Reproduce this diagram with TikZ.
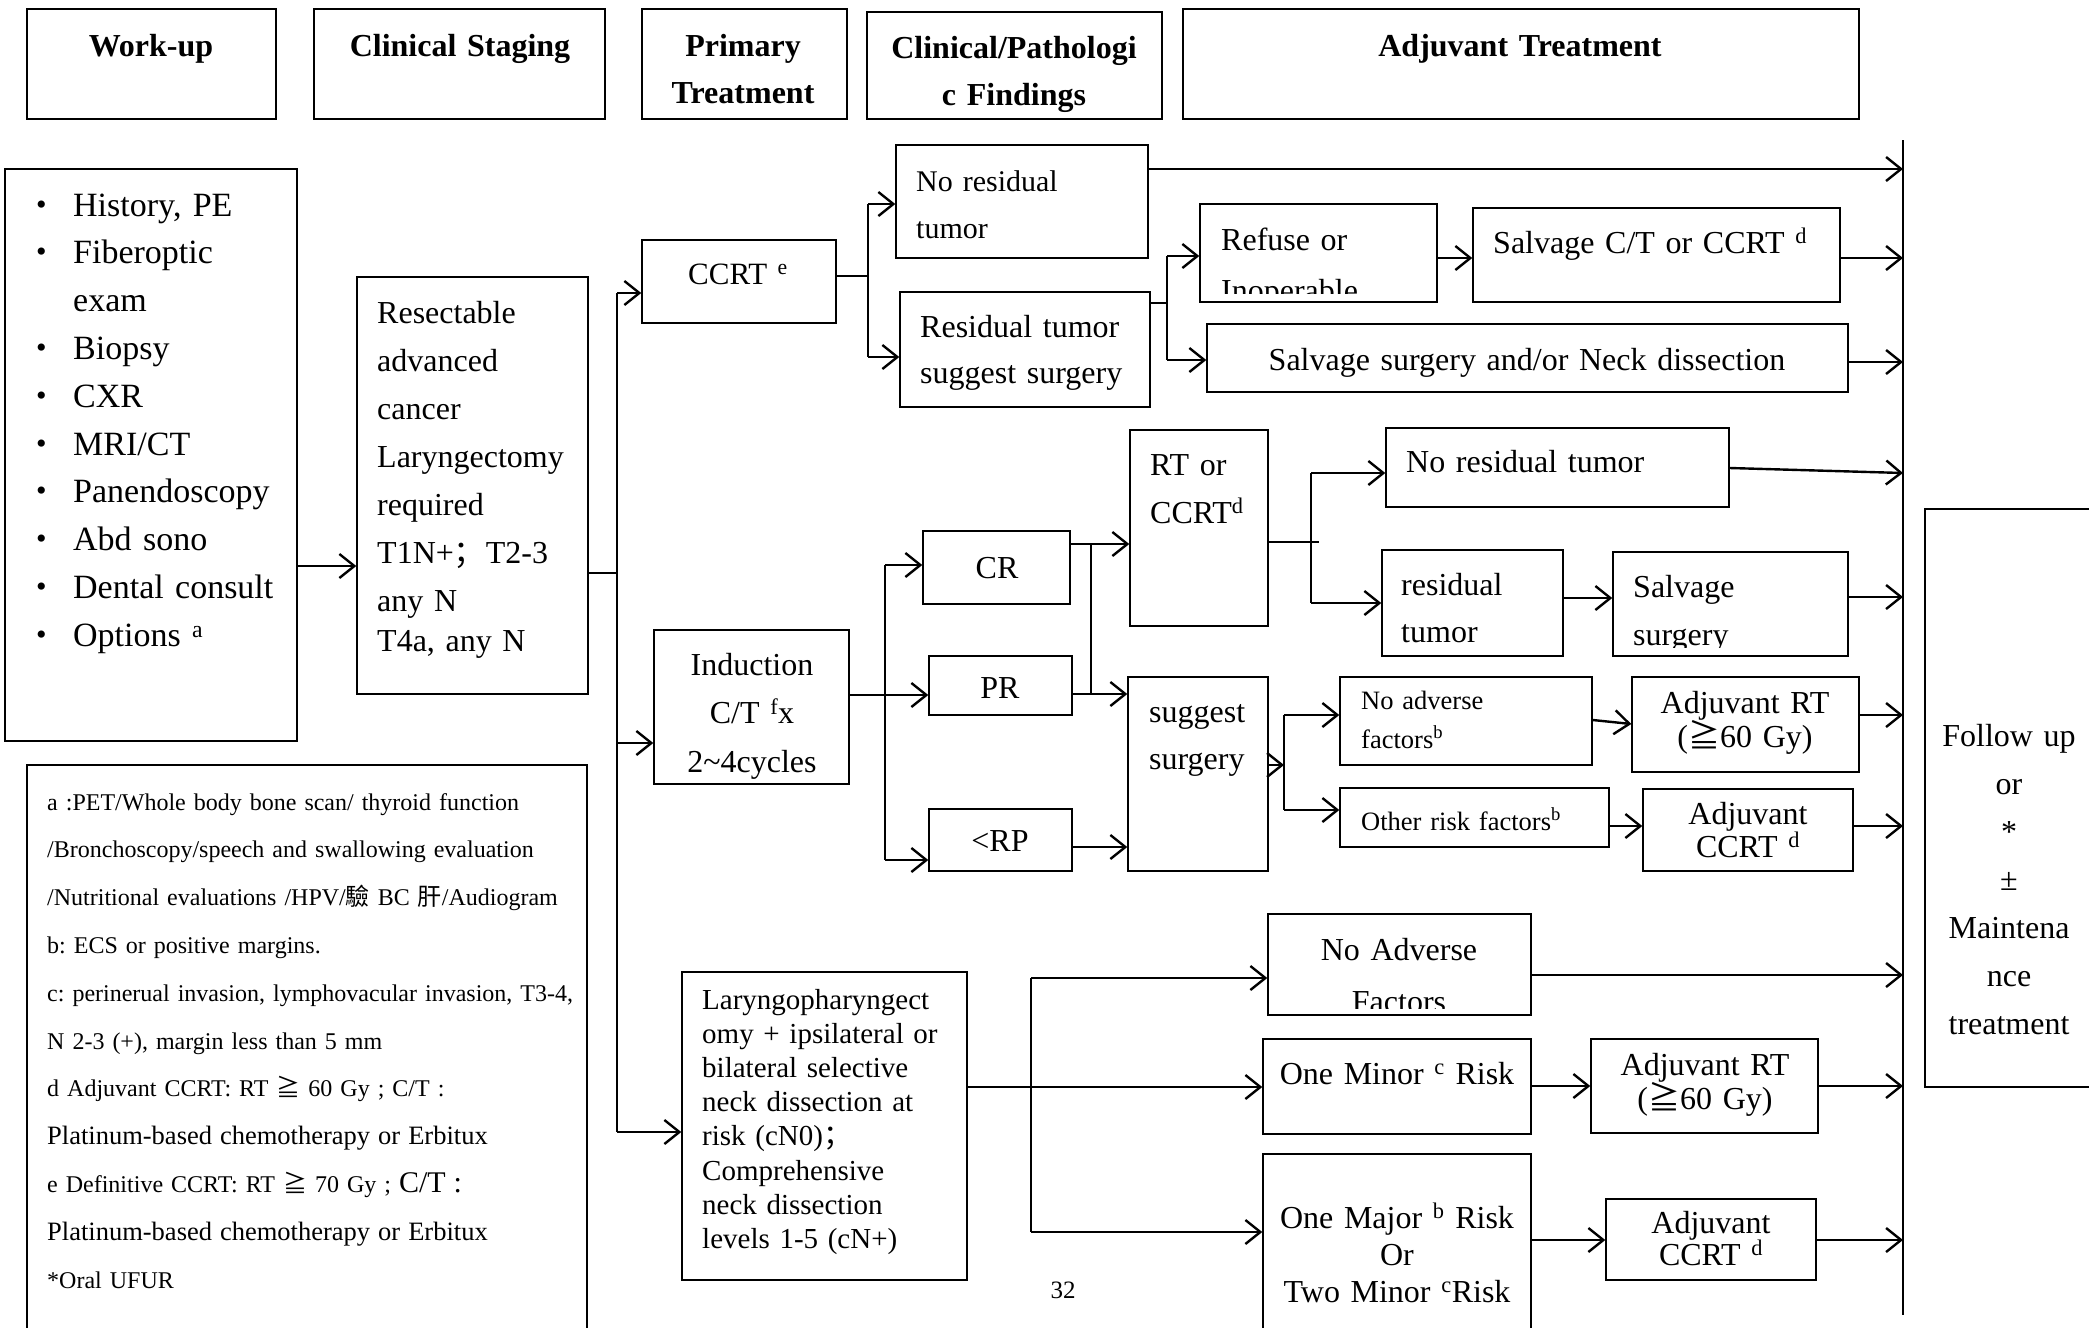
\documentclass[tikz,border=0pt]{standalone}
\usepackage{fontspec}
\setmainfont{Liberation Serif}
\newfontfamily\cjk{Noto Sans CJK SC}
\usetikzlibrary{arrows.meta,fit}

\newcommand\fsz[2]{\fontsize{#1}{#2}\selectfont}
\newcommand\sups[1]{\textsuperscript{#1}}
\newcommand\gee{{\cjk ≧}}
\newcommand\fwsemi{{\cjk ；}}
% a box spanning two corners, named #1
\newcommand\bx[5]{\node[box, fit={(#2,#3) (#4,#5)}] (#1) {};}

\tikzset{
  box/.style={draw, line width=1.4pt, inner sep=0pt},
  conn/.style={line width=1.8pt},
  arr/.style={line width=2.4pt, -{Straight Barb[length=15pt,width=24pt]}},
  lt/.style={inner sep=0pt, anchor=base west, text width=#1, align=left},
  lt/.default=600pt,
  ct/.style={inner sep=0pt, anchor=base, text width=#1, align=center},
  ct/.default=400pt,
  hd/.style={ct, font=\bfseries\fsz{32}{47}},
}

\begin{document}
\frenchspacing
\begin{tikzpicture}[x=1pt,y=-1pt]
\useasboundingbox (0,0) rectangle (2089,1328);
\clip (0,0) rectangle (2089,1328);

% ---------- column headers ----------
\bx{hWork}{27}{9}{276}{119}
\bx{hStage}{314}{9}{605}{119}
\bx{hPrim}{642}{9}{847}{119}
\bx{hFind}{867}{12}{1162}{119}
\bx{hAdj}{1183}{9}{1859}{119}
\node[hd] (tWork) at (151,56) {Work-up};
\node[hd] (tStageH) at (460,56) {Clinical Staging};
\node[hd] (tPrim) at (743,56) {Primary\\Treatment};
\node[hd] (tFind) at (1014,58) {Clinical/Pathologi\\c Findings};
\node[hd] (tAdj) at (1520,56) {Adjuvant Treatment};

% ---------- work-up and staging ----------
\bx{work}{5}{169}{297}{741}
\node[lt=40pt, font=\fsz{30}{47.8}] (tBul) at (36,214)
  {•\\•\\\mbox{}\\•\\•\\•\\•\\•\\•\\•};
\node[lt, font=\fsz{34}{47.8}] (tWorkList) at (73,216)
  {History, PE\\Fiberoptic\\exam\\Biopsy\\CXR\\MRI/CT\\Panendoscopy\\Abd sono\\Dental consult\\Options \sups{a}};

\bx{notes}{27}{765}{587}{1345}
\node[lt=560pt, font=\fsz{24}{47.8}] (tNotes) at (47,810)
  {a :PET/Whole body bone scan/ thyroid function\\
   /Bronchoscopy/speech and swallowing evaluation\\
   /Nutritional evaluations /HPV/{\cjk 驗} BC {\cjk 肝}/Audiogram\\
   b: ECS or positive margins.\\
   c: perinerual invasion, lymphovacular invasion, T3-4,\\
   N 2-3 (+), margin less than 5 mm\\
   d Adjuvant CCRT: RT \gee\ 60 Gy ; C/T :\\
   {\fsz{26.5}{47.8}Platinum-based chemotherapy or Erbitux}\\
   e Definitive CCRT: RT \gee\ 70 Gy ; {\fsz{30}{47.8}C/T :}\\
   {\fsz{26.5}{47.8}Platinum-based chemotherapy or Erbitux}\\
   {*}Oral UFUR};

\bx{stage}{357}{277}{588}{694}
\node[lt, font=\fsz{32}{48}] (tStage) at (377,323)
  {Resectable\\advanced\\cancer\\Laryngectomy\\required\\T1N+\fwsemi T2-3\\any N\\[-8pt]T4a, any N};

% ---------- CCRT branch ----------
\bx{ccrt}{642}{240}{836}{323}
\node[ct=200pt, font=\fsz{31}{48}] (tCcrt) at (738,284) {CCRT \sups{e}};
\bx{nores1}{896}{145}{1148}{258}
\node[lt, font=\fsz{30}{47}] (tNores1) at (916,191) {No residual\\tumor};
\bx{res1}{900}{292}{1150}{407}
\node[lt, font=\fsz{32}{46}] (tRes1) at (920,337) {Residual tumor\\suggest surgery};
\bx{refuse}{1200}{204}{1437}{302}
\begin{scope}
  \clip (1200,204) rectangle (1437,293);
  \node[lt, font=\fsz{32}{51}] (tRefuse) at (1221,250) {Refuse or\\Inoperable};
\end{scope}
\bx{salvct}{1473}{208}{1840}{302}
\node[lt, font=\fsz{32}{48}] (tSalvct) at (1493,253) {Salvage C/T or CCRT \sups{d}};
\bx{salvsurg}{1207}{324}{1848}{392}
\node[ct=640pt, font=\fsz{32}{48}] (tSalvs) at (1527,370) {Salvage surgery and/or Neck dissection};

% ---------- induction branch ----------
\bx{induct}{654}{630}{849}{784}
\node[ct=190pt, font=\fsz{32}{48.5}] (tInd) at (752,675) {Induction\\C/T \sups{f}x\\2\textasciitilde4cycles};
\bx{cr}{923}{531}{1070}{604}
\node[ct=140pt, font=\fsz{32}{48}] (tCr) at (997,578) {CR};
\bx{pr}{929}{656}{1072}{715}
\node[ct=140pt, font=\fsz{32}{48}] (tPr) at (1000,698) {PR};
\bx{rp}{929}{809}{1072}{871}
\node[ct=140pt, font=\fsz{32}{48}] (tRp) at (1000,851) {<RP};
\bx{rtccrt}{1130}{430}{1268}{626}
\node[lt, font=\fsz{32}{48}] (tRt) at (1150,475) {RT or\\CCRT\sups{d}};
\bx{sugg}{1128}{677}{1268}{871}
\node[lt, font=\fsz{32}{47}] (tSugg) at (1149,722) {suggest\\surgery};
\bx{nores2}{1386}{428}{1729}{507}
\node[lt, font=\fsz{32}{48}] (tNores2) at (1406,472) {No residual tumor};
\bx{res2}{1382}{550}{1563}{656}
\node[lt, font=\fsz{32}{47}] (tRes2) at (1401,595) {residual\\tumor};
\bx{salv2}{1613}{552}{1848}{656}
\begin{scope}
  \clip (1613,552) rectangle (1848,647);
  \node[lt, font=\fsz{32}{48}] (tSalv2) at (1633,597) {Salvage\\surgery};
\end{scope}
\bx{noadv}{1340}{677}{1592}{765}
\node[lt, font=\fsz{26.5}{39}] (tNoadv) at (1361,709) {No adverse\\factors\sups{b}};
\bx{adjrt1}{1632}{677}{1859}{772}
\node[ct=220pt, font=\fsz{32}{32}] (tAdjrt1) at (1745,713) {Adjuvant RT\\(\gee60 Gy)};
\bx{other}{1340}{788}{1609}{847}
\node[lt, font=\fsz{26.5}{39}] (tOther) at (1361,830) {Other risk factors\sups{b}};
\bx{adjccrt1}{1643}{789}{1853}{871}
\node[ct=200pt, font=\fsz{32}{33}] (tAdjccrt1) at (1748,824) {Adjuvant\\CCRT \sups{d}};

% ---------- surgery branch ----------
\bx{laryn}{682}{972}{967}{1280}
\node[lt, font=\fsz{29}{34.2}] (tLaryn) at (702,1009)
  {Laryngopharyngect\\omy + ipsilateral or\\bilateral selective\\neck dissection at\\risk (cN0)\fwsemi\\Comprehensive\\neck dissection\\levels 1-5 (cN+)};
\bx{noAdvF}{1268}{914}{1531}{1015}
\begin{scope}
  \clip (1268,914) rectangle (1531,1008);
  \node[ct=260pt, font=\fsz{32}{52}] (tNoAdvF) at (1399,960) {No Adverse\\Factors};
\end{scope}
\bx{oneminor}{1263}{1039}{1531}{1134}
\node[ct=265pt, font=\fsz{32}{48}] (tOneMinor) at (1397,1084) {One Minor \sups{c} Risk};
\bx{onemajor}{1263}{1154}{1531}{1345}
\node[ct=265pt, font=\fsz{32}{37}] (tOneMajor) at (1397,1228) {One Major \sups{b} Risk\\Or\\Two Minor \sups{c}Risk};
\bx{adjrt2}{1591}{1039}{1818}{1133}
\node[ct=220pt, font=\fsz{32}{30}] (tAdjrt2) at (1705,1075) {Adjuvant RT\\(\gee60 Gy)};
\bx{adjccrt2}{1606}{1199}{1816}{1280}
\node[ct=200pt, font=\fsz{32}{32}] (tAdjccrt2) at (1711,1233) {Adjuvant\\CCRT \sups{d}};
\node[ct=60pt, font=\fsz{25}{30}] (tPage) at (1063,1298) {32};

% ---------- follow-up ----------
\bx{follow}{1925}{509}{2110}{1087}
\node[ct=170pt, font=\fsz{32}{48}] (tFollow) at (2009,746)
  {Follow up\\or\\{*}\\±\\Maintena\\nce\\treatment};

% ---------- connectors ----------
\coordinate (jWS) at (0,566);
\draw[arr] (work.east |- jWS) -- (stage.west |- jWS);

\coordinate (b1t) at (617,293);
\coordinate (b1s) at (617,573);
\coordinate (b1m) at (617,743);
\coordinate (b1b) at (617,1132);
\draw[conn] (b1t) -- (b1b);
\draw[conn] (stage.east |- b1s) -- (b1s);
\draw[arr] (b1t) -- (ccrt.west |- b1t);
\draw[arr] (b1m) -- (induct.west |- b1m);
\draw[arr] (b1b) -- (laryn.west |- b1b);

\coordinate (b2s) at (868,276);
\coordinate (b2t) at (868,204);
\coordinate (b2b) at (868,357);
\draw[conn] (ccrt.east |- b2s) -- (b2s);
\draw[conn] (b2t) -- (b2b);
\draw[arr] (b2t) -- (nores1.west |- b2t);
\draw[arr] (b2b) -- (res1.west |- b2b);

% collecting line on the right
\coordinate (endT) at (1903,140);
\coordinate (endB) at (1903,1315);
\draw[conn] (endT) -- (endB);

\coordinate (e1) at (1903,169);
\draw[arr] (nores1.east |- e1) -- (e1);

\coordinate (b3s) at (1167,303);
\coordinate (b3t) at (1167,256);
\coordinate (b3b) at (1167,360);
\draw[conn] (res1.east |- b3s) -- (b3s);
\draw[conn] (b3t) -- (b3b);
\draw[arr] (b3t) -- (refuse.west |- b3t);
\draw[arr] (b3b) -- (salvsurg.west |- b3b);
\coordinate (e2) at (1903,258);
\draw[arr] (refuse.east |- e2) -- (salvct.west |- e2);
\draw[arr] (salvct.east |- e2) -- (e2);
\coordinate (e3) at (1903,362);
\draw[arr] (salvsurg.east |- e3) -- (e3);

\coordinate (b4t) at (885,565);
\coordinate (b4m) at (885,695);
\coordinate (b4b) at (885,860);
\draw[conn] (induct.east |- b4m) -- (b4m);
\draw[conn] (b4t) -- (b4b);
\draw[arr] (b4t) -- (cr.west |- b4t);
\draw[arr] (b4m) -- (pr.west |- b4m);
\draw[arr] (b4b) -- (rp.west |- b4b);

\coordinate (j5t) at (1091,544);
\coordinate (j5b) at (1091,694);
\draw[arr] (cr.east |- j5t) -- (rtccrt.west |- j5t);
\draw[conn] (j5t) -- (j5b);
\draw[arr] (pr.east |- j5b) -- (sugg.west |- j5b);
\coordinate (j6) at (0,847);
\draw[arr] (rp.east |- j6) -- (sugg.west |- j6);

\coordinate (b7s) at (1319,542);
\coordinate (b7t) at (1311,473);
\coordinate (b7b) at (1311,603);
\draw[conn] (rtccrt.east |- b7s) -- (b7s);
\draw[conn] (b7t) -- (b7b);
\draw[arr] (b7t) -- (nores2.west |- b7t);
\draw[arr] (b7b) -- (res2.west |- b7b);
\coordinate (j7) at (0,468);
\coordinate (e4) at (1903,473);
\draw[arr] (nores2.east |- j7) -- (e4);
\coordinate (j8) at (0,598);
\draw[arr] (res2.east |- j8) -- (salv2.west |- j8);
\coordinate (e5) at (1903,597);
\draw[arr] (salv2.east |- e5) -- (e5);

\coordinate (b9m) at (1284,765);
\coordinate (b9t) at (1284,715);
\coordinate (b9b) at (1284,810);
\draw[arr] (sugg.east |- b9m) -- (b9m);
\draw[conn] (b9t) -- (b9b);
\draw[arr] (b9t) -- (noadv.west |- b9t);
\draw[arr] (b9b) -- (other.west |- b9b);
\coordinate (j10a) at (0,720);
\coordinate (j10b) at (0,724);
\draw[arr] (noadv.east |- j10a) -- (adjrt1.west |- j10b);
\coordinate (e6) at (1903,715);
\draw[arr] (adjrt1.east |- e6) -- (e6);
\coordinate (e7) at (1903,826);
\draw[arr] (other.east |- e7) -- (adjccrt1.west |- e7);
\draw[arr] (adjccrt1.east |- e7) -- (e7);

\coordinate (b11m) at (1031,1087);
\coordinate (b11t) at (1031,978);
\coordinate (b11b) at (1031,1232);
\draw[arr] (laryn.east |- b11m) -- (oneminor.west |- b11m);
\draw[conn] (b11t) -- (b11b);
\draw[arr] (b11t) -- (noAdvF.west |- b11t);
\draw[arr] (b11b) -- (onemajor.west |- b11b);
\coordinate (e8) at (1903,975);
\draw[arr] (noAdvF.east |- e8) -- (e8);
\coordinate (e9) at (1903,1086);
\draw[arr] (oneminor.east |- e9) -- (adjrt2.west |- e9);
\draw[arr] (adjrt2.east |- e9) -- (e9);
\coordinate (e10) at (1903,1240);
\draw[arr] (onemajor.east |- e10) -- (adjccrt2.west |- e10);
\draw[arr] (adjccrt2.east |- e10) -- (e10);
\end{tikzpicture}
\end{document}
